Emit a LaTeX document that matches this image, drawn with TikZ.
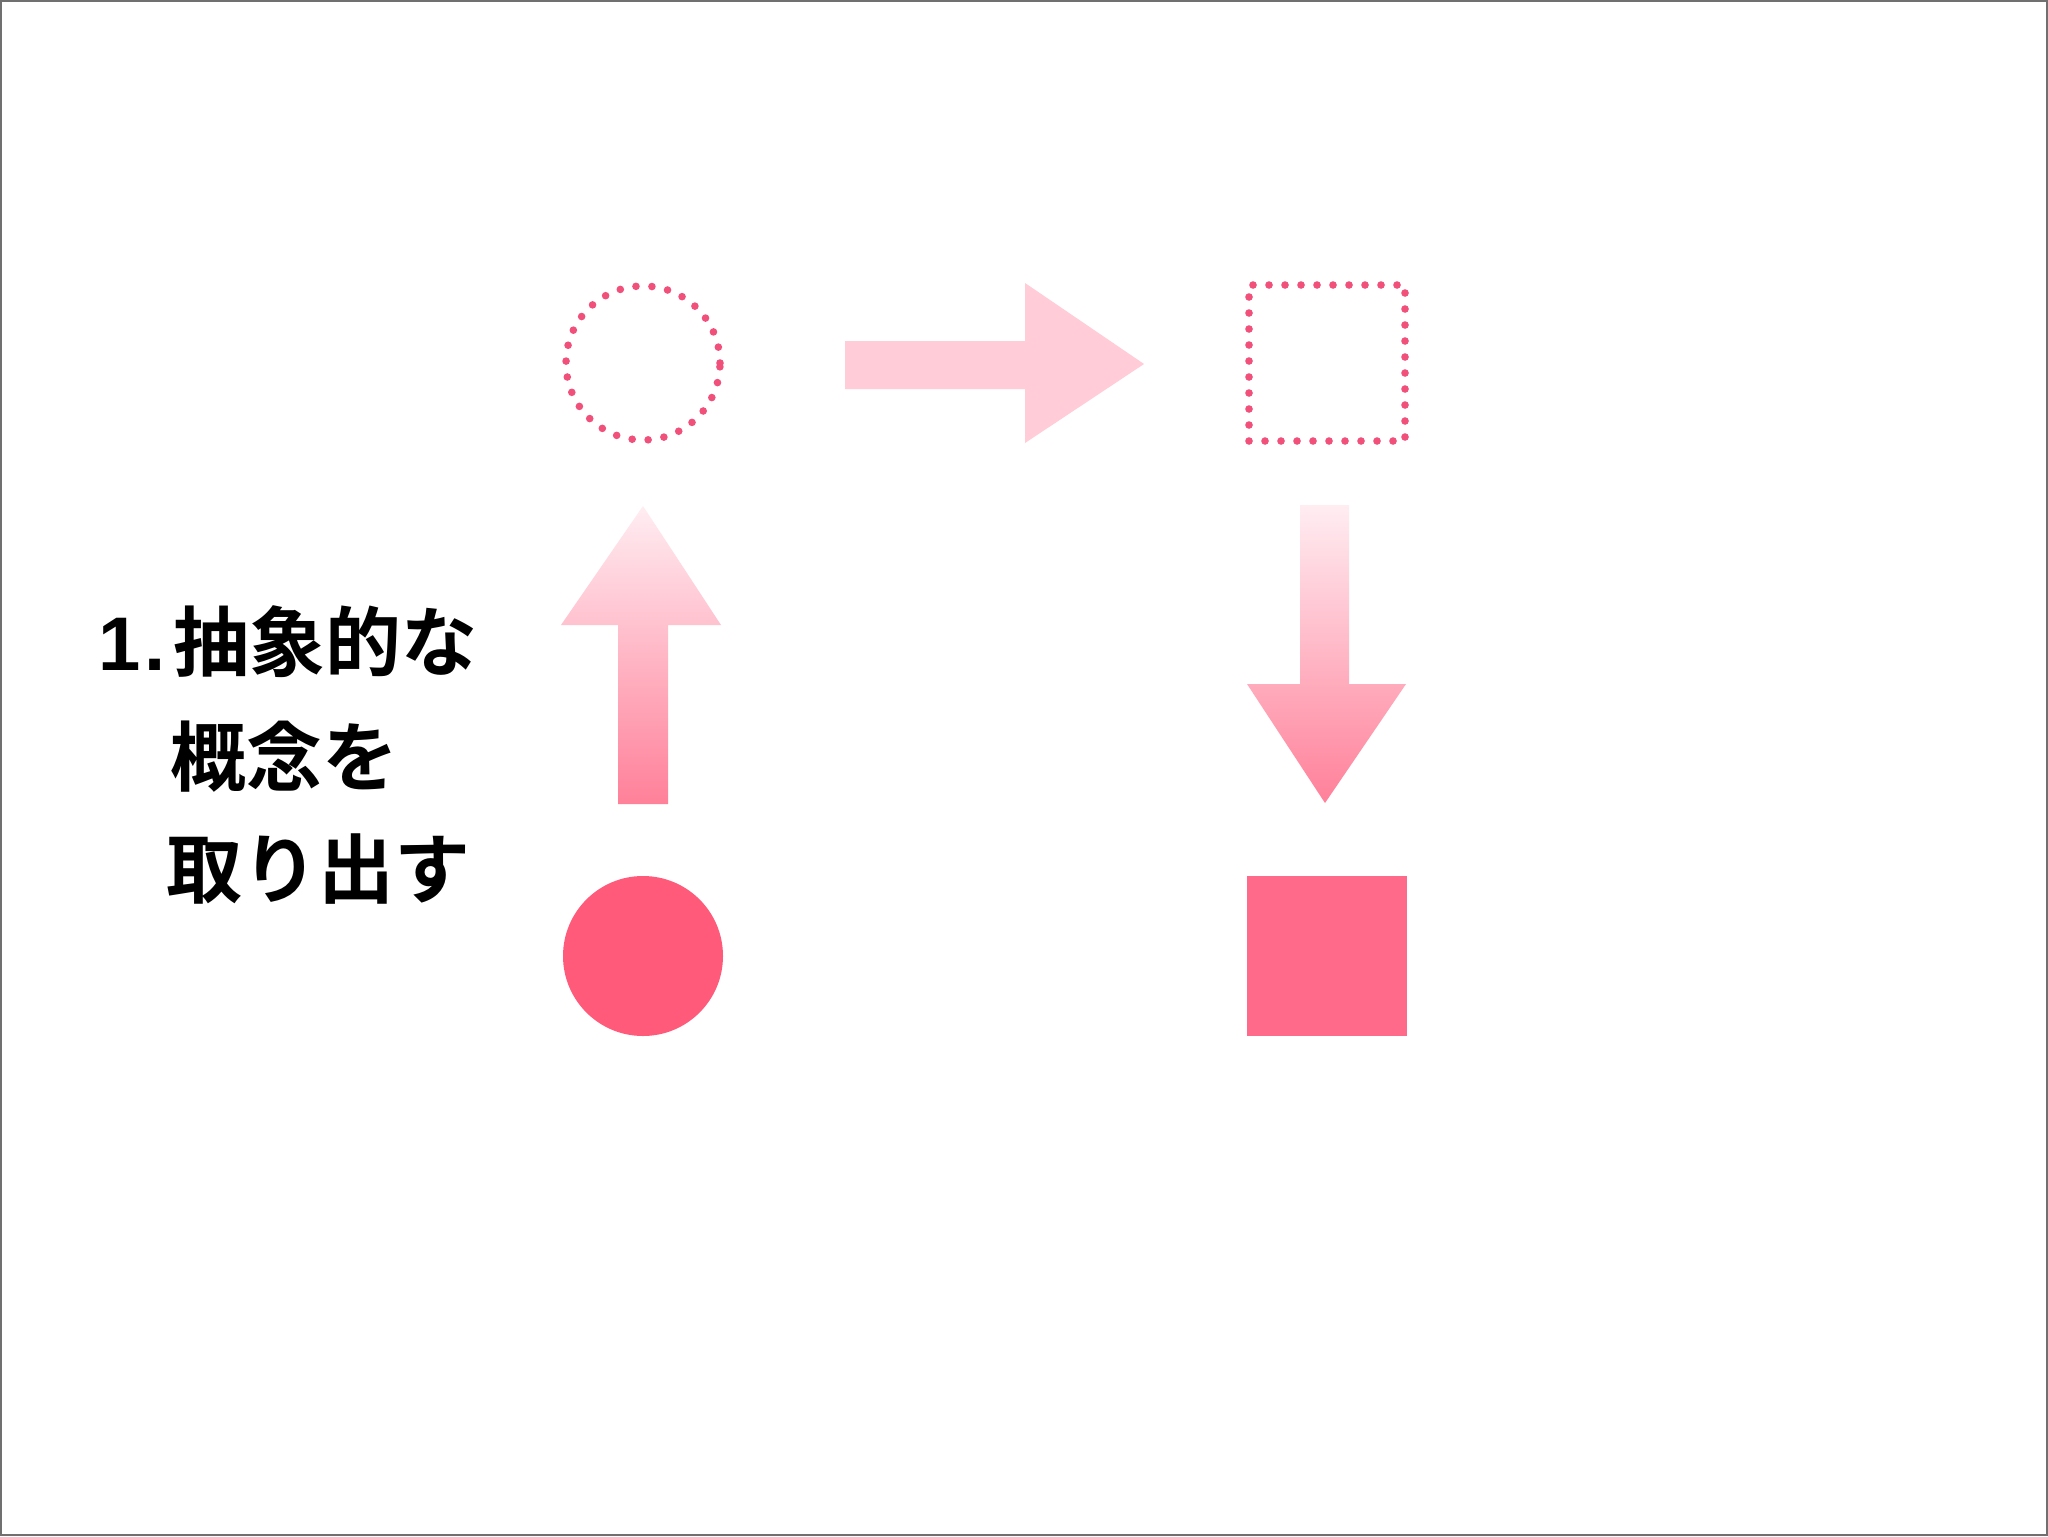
\documentclass[tikz,border=0pt]{standalone}
\usepackage{fontspec}
\newfontfamily\cjk{Noto Sans CJK JP Bold}
\newfontfamily\latn{Liberation Sans}
\definecolor{dotpink}{HTML}{F0507A}
\definecolor{arrowlight}{HTML}{FFCCD7}
\definecolor{gradtop}{HTML}{FFEDF2}
\definecolor{gradbot}{HTML}{FF8099}
\definecolor{fillcirc}{HTML}{FF5A7A}
\definecolor{fillsq}{HTML}{FF6A8A}
\definecolor{framegray}{HTML}{707070}
\tikzset{
  dotline/.style={draw=dotpink, line width=3.8pt, line cap=round, dash pattern=on 0pt off 8pt},
  label/.style={font=\cjk\fontsize{38}{40}\selectfont, inner sep=0pt, anchor=base west},
}
\begin{document}
\begin{tikzpicture}[x=0.5pt,y=-0.5pt]
\useasboundingbox (0,0) rectangle (2048,1536);
\fill[white] (0,0) rectangle (2048,1536);
\draw[framegray, line width=1pt] (1,1) rectangle (2047,1535);

% dotted outlines
\node[circle, dotline, minimum size=77pt, inner sep=0pt] (oc) at (643,363) {};
\node[rectangle, dotline, minimum size=78pt, inner sep=0pt] (os) at (1327,363) {};

% filled shapes
\node[circle, fill=fillcirc, minimum size=80pt, inner sep=0pt] (fc) at (643,956) {};
\node[rectangle, fill=fillsq, minimum size=80pt, inner sep=0pt] (fs) at (1327,956) {};

% right arrow
\fill[arrowlight] (845,341) -- (1025,341) -- (1025,283) -- (1144,364) -- (1025,443) -- (1025,389) -- (845,389) -- cycle;

% up arrow
\shade[top color=gradtop, bottom color=gradbot] (643,506) -- (721,625) -- (668,625) -- (668,804) -- (618,804) -- (618,625) -- (561,625) -- cycle;

% down arrow
\shade[top color=gradtop, bottom color=gradbot] (1300,505) -- (1349,505) -- (1349,684) -- (1406,684) -- (1325,803) -- (1247,684) -- (1300,684) -- cycle;

% text
\node[label] (t1) at (98,670) {{\latn\bfseries 1\kern0.05em.\kern0.1em}抽象的な};
\node[label] (t2) at (170,785) {概念を};
\node[label] (t3) at (166,897) {取り出す};
\end{tikzpicture}
\end{document}
